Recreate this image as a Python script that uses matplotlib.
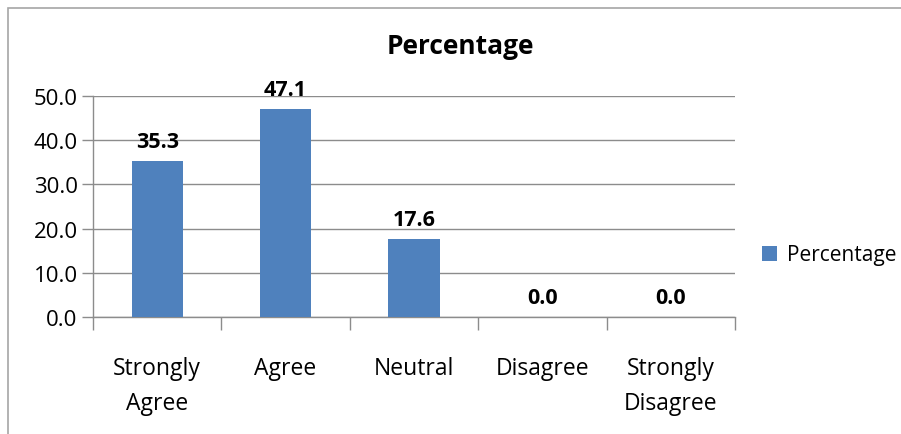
import numpy as np
import matplotlib
matplotlib.use("Agg")
from matplotlib import pyplot as plt
from matplotlib.patches import Rectangle

categories = ["Strongly\nAgree", "Agree", "Neutral", "Disagree", "Strongly\nDisagree"]
percentages = [35.3, 47.1, 17.6, 0.0, 0.0]
y_ticks = [0, 10, 20, 30, 40, 50]
series_name = "Percentage"

plt.rcParams['font.family'] = ['Open Sans', 'DejaVu Sans']
bar_color = '#4f81bd'
grid_color = '#8c8c8c'

fig = plt.figure(figsize=(9.01, 4.35), dpi=100)

# chart frame (light border at left and top)
fig.patches.append(Rectangle((8/901, -0.1), 1.2, 1 - 9/435 + 0.1, transform=fig.transFigure,
                             fill=False, edgecolor='#a6a6a6', linewidth=1.2, zorder=0))

ax = fig.add_axes([93/901, 1 - 318/435, (735-93)/901, (318-97)/435])

x = np.arange(len(categories))
bars = ax.bar(x, percentages, width=0.4, color=bar_color, label=series_name, zorder=3)

for xi, v in zip(x, percentages):
    ax.text(xi, v + 2.0, "%.1f" % v, ha='center', va='bottom', fontsize=15.5,
            fontweight='bold', color='black')

ax.set_xlim(-0.5, len(categories) - 0.5)
ax.set_ylim(0, 50)
ax.set_yticks(y_ticks)
ax.set_yticklabels(["%.1f" % t for t in y_ticks], fontsize=16)
ax.yaxis.grid(True, color=grid_color, linewidth=1.0, zorder=0)
ax.tick_params(axis='y', length=8, color=grid_color, width=1.0, pad=3)

# category labels centred, tick marks on boundaries
ax.set_xticks(np.arange(len(categories) + 1) - 0.5)
ax.set_xticklabels([])
ax.tick_params(axis='x', length=9, color=grid_color, width=1.0)
ax.set_xticks(x, minor=True)
ax.set_xticklabels(categories, minor=True, fontsize=16.5, linespacing=1.6)
ax.tick_params(axis='x', which='minor', length=0, pad=28)

for s in ['top', 'right']:
    ax.spines[s].set_visible(False)
for s in ['left', 'bottom']:
    ax.spines[s].set_color(grid_color)
    ax.spines[s].set_linewidth(1.0)

fig.text(460/901, 1 - 47/435, "Percentage", ha='center', va='center',
         fontsize=19, fontweight='bold')

fig.legend(handles=[bars], labels=[series_name], loc='center left',
           bbox_to_anchor=(743/901, 1 - 256/435), frameon=False, fontsize=15,
           handlelength=0.75, handleheight=0.75, handletextpad=0.45)

fig.savefig("out.png", dpi=100)
